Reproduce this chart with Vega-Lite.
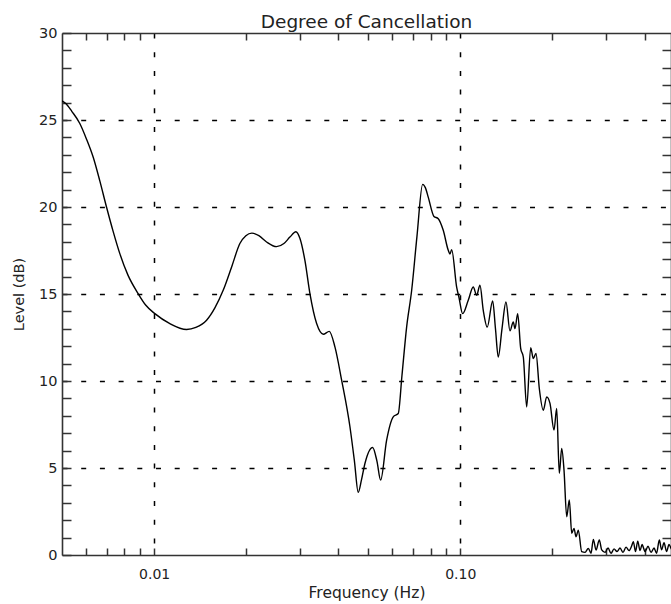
{
  "$schema": "https://vega.github.io/schema/vega-lite/v6.json",
  "autosize": "none",
  "width": 609,
  "height": 522,
  "padding": {"left": 62, "top": 33, "right": 0, "bottom": 49},
  "background": "white",
  "title": {"text": "Degree of Cancellation", "font": "DejaVu Sans", "fontSize": 18.5, "fontWeight": "normal", "color": "#222", "offset": -6},
  "config": {"view": {"stroke": null}},
  "data": {"values": [
    {"f": 0.005, "v": 26.1}, {"f": 0.005145, "v": 25.95}, {"f": 0.005383, "v": 25.5}, {"f": 0.005717, "v": 24.8},
    {"f": 0.006013, "v": 23.9}, {"f": 0.00632, "v": 22.87}, {"f": 0.006645, "v": 21.5}, {"f": 0.006988, "v": 20.0},
    {"f": 0.007345, "v": 18.6}, {"f": 0.007724, "v": 17.32}, {"f": 0.008205, "v": 16.1}, {"f": 0.008866, "v": 15.02},
    {"f": 0.009395, "v": 14.35}, {"f": 0.010053, "v": 13.87}, {"f": 0.011254, "v": 13.3}, {"f": 0.012763, "v": 12.96},
    {"f": 0.013686, "v": 13.08}, {"f": 0.014834, "v": 13.49}, {"f": 0.01579, "v": 14.2}, {"f": 0.016807, "v": 15.21},
    {"f": 0.017945, "v": 16.6}, {"f": 0.019055, "v": 17.9}, {"f": 0.019935, "v": 18.35}, {"f": 0.020855, "v": 18.5},
    {"f": 0.021985, "v": 18.35}, {"f": 0.023294, "v": 17.99}, {"f": 0.025119, "v": 17.72}, {"f": 0.026538, "v": 17.9},
    {"f": 0.027763, "v": 18.27}, {"f": 0.029046, "v": 18.58}, {"f": 0.029929, "v": 18.2}, {"f": 0.031081, "v": 16.93},
    {"f": 0.032278, "v": 15.02}, {"f": 0.033946, "v": 13.3}, {"f": 0.035678, "v": 12.69}, {"f": 0.037322, "v": 12.85},
    {"f": 0.038954, "v": 11.96}, {"f": 0.040969, "v": 10.05}, {"f": 0.043611, "v": 7.37}, {"f": 0.04511, "v": 5.4},
    {"f": 0.046419, "v": 3.6}, {"f": 0.047545, "v": 4.3}, {"f": 0.048819, "v": 5.26}, {"f": 0.051722, "v": 6.18},
    {"f": 0.053428, "v": 5.4}, {"f": 0.054937, "v": 4.31}, {"f": 0.057474, "v": 6.6}, {"f": 0.060395, "v": 7.94},
    {"f": 0.062718, "v": 8.13}, {"f": 0.064488, "v": 10.3}, {"f": 0.0668, "v": 13.1}, {"f": 0.069368, "v": 15.2},
    {"f": 0.07219, "v": 18.3}, {"f": 0.075352, "v": 21.3}, {"f": 0.076962, "v": 21.1}, {"f": 0.07859, "v": 20.57},
    {"f": 0.082051, "v": 19.46}, {"f": 0.084742, "v": 19.33}, {"f": 0.087988, "v": 18.66}, {"f": 0.091371, "v": 17.51},
    {"f": 0.092536, "v": 17.3}, {"f": 0.093736, "v": 17.55}, {"f": 0.09732, "v": 15.4}, {"f": 0.09904, "v": 14.8},
    {"f": 0.10181, "v": 13.87}, {"f": 0.10619, "v": 14.64}, {"f": 0.11027, "v": 15.4}, {"f": 0.11312, "v": 14.93},
    {"f": 0.11597, "v": 15.5}, {"f": 0.11889, "v": 14.06}, {"f": 0.12251, "v": 13.1}, {"f": 0.1276, "v": 14.6},
    {"f": 0.13032, "v": 13.0}, {"f": 0.1331, "v": 11.38}, {"f": 0.13686, "v": 13.0}, {"f": 0.14103, "v": 14.54},
    {"f": 0.14535, "v": 12.88}, {"f": 0.14901, "v": 13.39}, {"f": 0.15094, "v": 13.01}, {"f": 0.15403, "v": 13.87},
    {"f": 0.15755, "v": 11.87}, {"f": 0.16067, "v": 11.38}, {"f": 0.16482, "v": 8.51}, {"f": 0.16986, "v": 11.92},
    {"f": 0.17323, "v": 11.29}, {"f": 0.17677, "v": 11.58}, {"f": 0.18122, "v": 9.57}, {"f": 0.18673, "v": 8.32},
    {"f": 0.19161, "v": 9.09}, {"f": 0.1964, "v": 8.71}, {"f": 0.20242, "v": 7.18}, {"f": 0.20654, "v": 8.42},
    {"f": 0.21063, "v": 4.69}, {"f": 0.21449, "v": 6.12}, {"f": 0.21823, "v": 4.88}, {"f": 0.2227, "v": 2.2},
    {"f": 0.22711, "v": 3.16}, {"f": 0.23127, "v": 1.25}, {"f": 0.23531, "v": 1.53}, {"f": 0.23887, "v": 1.05},
    {"f": 0.24303, "v": 1.43}, {"f": 0.24932, "v": 0.19}, {"f": 0.25559, "v": 0.15}, {"f": 0.26202, "v": 0.38},
    {"f": 0.26738, "v": 0.1}, {"f": 0.27205, "v": 0.9}, {"f": 0.27768, "v": 0.29}, {"f": 0.28461, "v": 0.86},
    {"f": 0.28983, "v": 0.29}, {"f": 0.29712, "v": 0.15}, {"f": 0.3039, "v": 0.4}, {"f": 0.31083, "v": 0.1},
    {"f": 0.31792, "v": 0.35}, {"f": 0.32518, "v": 0.2}, {"f": 0.33259, "v": 0.4}, {"f": 0.34018, "v": 0.15},
    {"f": 0.34794, "v": 0.45}, {"f": 0.35588, "v": 0.25}, {"f": 0.36265, "v": 0.5}, {"f": 0.36761, "v": 0.77},
    {"f": 0.3737, "v": 0.2}, {"f": 0.37994, "v": 0.8}, {"f": 0.38664, "v": 0.25}, {"f": 0.39247, "v": 0.6},
    {"f": 0.40143, "v": 0.2}, {"f": 0.41059, "v": 0.5}, {"f": 0.41996, "v": 0.15}, {"f": 0.42954, "v": 0.4},
    {"f": 0.43773, "v": 0.1}, {"f": 0.44701, "v": 0.86}, {"f": 0.45449, "v": 0.3}, {"f": 0.46316, "v": 0.7},
    {"f": 0.47198, "v": 0.2}, {"f": 0.48084, "v": 0.6}, {"f": 0.49182, "v": 0.3}, {"f": 0.5, "v": 0.4}
  ]},
  "resolve": {"axis": {"x": "independent", "y": "independent"}},
  "layer": [
    {
      "mark": {"type": "line", "color": "black", "strokeWidth": 1.4, "interpolate": "monotone", "clip": true},
      "encoding": {
        "x": {"field": "f", "type": "quantitative",
          "scale": {"type": "log", "domain": [0.005, 0.488], "nice": false},
          "axis": {"orient": "bottom", "title": "Frequency (Hz)",
            "values": [0.006, 0.007, 0.008, 0.009, 0.01, 0.02, 0.03, 0.04, 0.05, 0.06, 0.07, 0.08, 0.09, 0.1, 0.2, 0.3, 0.4],
            "labelExpr": "datum.value == 0.01 ? '0.01' : (datum.value == 0.1 ? '0.10' : '')",
            "tickSize": -7, "tickColor": "#333", "tickWidth": 1.5,
            "domainColor": "#333", "domainWidth": 1.6,
            "grid": true, "gridColor": "black", "gridWidth": 1.5, "gridDash": [5, 13.7],
            "gridOpacity": {"condition": {"test": "datum.value == 0.01 || datum.value == 0.1", "value": 1}, "value": 0},
            "labelFont": "DejaVu Sans", "labelFontSize": 14, "labelColor": "#222", "labelPadding": 19,
            "titleFont": "DejaVu Sans", "titleFontSize": 15.5, "titleFontWeight": "normal", "titleColor": "#222", "titlePadding": 4}},
        "y": {"field": "v", "type": "quantitative",
          "scale": {"domain": [0, 30], "nice": false},
          "axis": {"orient": "left", "title": "Level (dB)",
            "values": [0,1,2,3,4,5,6,7,8,9,10,11,12,13,14,15,16,17,18,19,20,21,22,23,24,25,26,27,28,29,30],
            "labelExpr": "datum.value % 5 == 0 ? datum.label : ''",
            "tickSize": -9, "tickColor": "#333", "tickWidth": 1.5,
            "domainColor": "#333", "domainWidth": 1.6,
            "grid": true, "gridColor": "black", "gridWidth": 1.5, "gridDash": [5, 13.7],
            "gridOpacity": {"condition": {"test": "datum.value % 5 == 0 && datum.value > 0 && datum.value < 30", "value": 1}, "value": 0},
            "labelFont": "DejaVu Sans", "labelFontSize": 14.5, "labelColor": "#222", "labelPadding": 14,
            "titleFont": "DejaVu Sans", "titleFontSize": 14.5, "titleFontWeight": "normal", "titleColor": "#222", "titlePadding": 12}}
      }
    },
    {
      "mark": {"type": "line", "opacity": 0},
      "encoding": {
        "x": {"field": "f", "type": "quantitative",
          "scale": {"type": "log", "domain": [0.005, 0.488], "nice": false},
          "axis": {"orient": "top", "title": null, "labels": false, "grid": false,
            "values": [0.006, 0.007, 0.008, 0.009, 0.02, 0.03, 0.04, 0.05, 0.06, 0.07, 0.08, 0.09, 0.2, 0.3, 0.4],
            "tickSize": -7, "tickColor": "#333", "tickWidth": 1.5,
            "domainColor": "#333", "domainWidth": 1.6}},
        "y": {"field": "v", "type": "quantitative",
          "scale": {"domain": [0, 30], "nice": false},
          "axis": {"orient": "right", "title": null, "labels": false, "grid": false,
            "values": [1,2,3,4,6,7,8,9,11,12,13,14,16,17,18,19,21,22,23,24,26,27,28,29],
            "tickSize": -9, "tickColor": "#333", "tickWidth": 1.5,
            "domainColor": "#333", "domainWidth": 1.6}}
      }
    }
  ]
}
